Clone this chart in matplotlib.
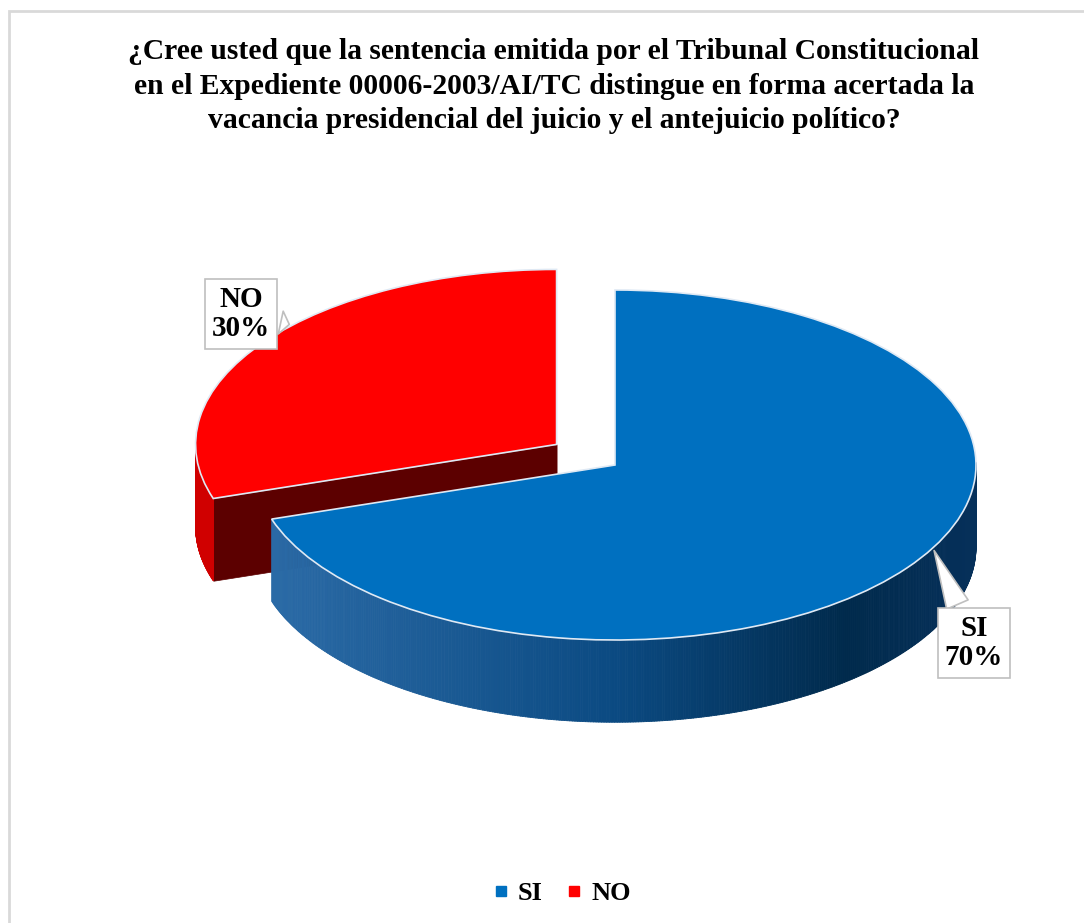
import numpy as np
import matplotlib
matplotlib.use("Agg")
import matplotlib.pyplot as plt
from matplotlib.collections import PolyCollection
from matplotlib.colors import LinearSegmentedColormap
from matplotlib.lines import Line2D
from matplotlib.patches import Rectangle

plt.rcParams['font.family'] = ['Liberation Serif', 'DejaVu Serif']

# data
labels = ['SI', 'NO']
values = [70, 30]
top_colors = ['#0070c0', '#ff0000']
explode = [0, 0.2]
title = ('¿Cree usted que la sentencia emitida por el Tribunal Constitucional\n'
         'en el Expediente 00006-2003/AI/TC distingue en forma acertada la\n'
         'vacancia presidencial del juicio y el antejuicio político?')

W, H = 1084, 923
fig = plt.figure(figsize=(W / 100, H / 100), dpi=100)

# axes in "pie units": 1 unit = rx px horizontally, ry px vertically
rx, ry = 361.0, 175.0
cx_px, cy_px = 615.0, 465.0
depth = 0.47
ax = fig.add_axes([0, 0, 1, 1])

wedges, _ = ax.pie(values, colors=top_colors, startangle=90, counterclock=False,
                   explode=explode, radius=1,
                   wedgeprops=dict(edgecolor='#dfe9f4', linewidth=1.2))
ax.set_aspect('auto')
ax.set_xlim(-cx_px / rx, (W - cx_px) / rx)
ax.set_ylim(-(H - cy_px) / ry, cy_px / ry)
ax.axis('off')

blue_cmap = LinearSegmentedColormap.from_list(
    'side', [(0.0, '#2c6ca8'), (0.5, '#0b4a82'), (0.82, '#002a4c'), (1.0, '#06305a')])


def side_strips(ax, w, cmap=None, color=None, z=1):
    # rim of a wedge, seen from the front (only angles with sin < 0)
    c = np.array(w.center)
    ts = np.linspace(w.theta1, w.theta2, 600)
    ts = ts[np.sin(np.radians(ts)) < 0.02]
    if len(ts) < 2:
        return
    verts, cols = [], []
    for a, b in zip(ts[:-1], ts[1:]):
        ra, rb = np.radians(a), np.radians(b)
        pa = c + [np.cos(ra), np.sin(ra)]
        pb = c + [np.cos(rb), np.sin(rb)]
        verts.append([pa, pb, pb - [0, depth], pa - [0, depth]])
        m = (np.cos(ra) + 1) / 2
        cols.append(cmap(m) if cmap is not None else color)
    pc = PolyCollection(verts, facecolors=cols, edgecolors=cols, linewidths=0.6, zorder=z)
    ax.add_collection(pc)


def radial_face(ax, w, angle, color, z):
    c = np.array(w.center)
    r = np.radians(angle)
    p = c + [np.cos(r), np.sin(r)]
    face = [c, p, p - [0, depth], c - [0, depth]]
    ax.add_collection(PolyCollection([face], facecolors=color, edgecolors=color,
                                     linewidths=0.5, zorder=z))


si, no = wedges
# NO (exploded) side faces, then top
radial_face(ax, no, no.theta2, '#5c0000', 1)
side_strips(ax, no, color='#d00000', z=1.1)
no.set_zorder(2)
# SI side, then top
side_strips(ax, si, cmap=blue_cmap, z=3)
si.set_zorder(4)

# callout labels
box = dict(boxstyle='square,pad=0.25', fc='white', ec='#bfbfbf', lw=1.2)
arrow = dict(arrowstyle='wedge,tail_width=0.8,shrink_factor=0.5', fc='white',
             ec='#bfbfbf', lw=1.2)
ax.annotate('SI\n70%', xy=((933 - cx_px) / rx, (cy_px - 548) / ry),
            xytext=((974 - cx_px) / rx, (cy_px - 643) / ry),
            ha='center', va='center', fontsize=21, fontweight='bold',
            linespacing=1.1, bbox=box, arrowprops=arrow, zorder=10)
ax.annotate('NO\n30%', xy=((292 - cx_px) / rx, (cy_px - 325) / ry),
            xytext=((241 - cx_px) / rx, (cy_px - 314) / ry),
            ha='center', va='center', fontsize=21, fontweight='bold',
            linespacing=1.1, bbox=box, arrowprops=arrow, zorder=10)

fig.text(554 / W, 1 - 86 / H, title, ha='center', va='center', fontsize=21.3,
         fontweight='bold', linespacing=1.36)

handles = [Line2D([], [], marker='s', linestyle='', color=c, markersize=7)
           for c in top_colors]
fig.legend(handles, labels, loc='center', bbox_to_anchor=(562 / W, 1 - 893 / H), ncol=2,
           frameon=False, handlelength=0.6, handletextpad=0.35,
           columnspacing=0.9, prop=dict(size=19, weight='bold'))

fig.patches.append(Rectangle((9 / W, -0.01), 1.02, 1 - 11 / H + 0.01,
                             transform=fig.transFigure, fill=False,
                             ec='#d9d9d9', lw=2))

fig.savefig('out.png', dpi=100)
